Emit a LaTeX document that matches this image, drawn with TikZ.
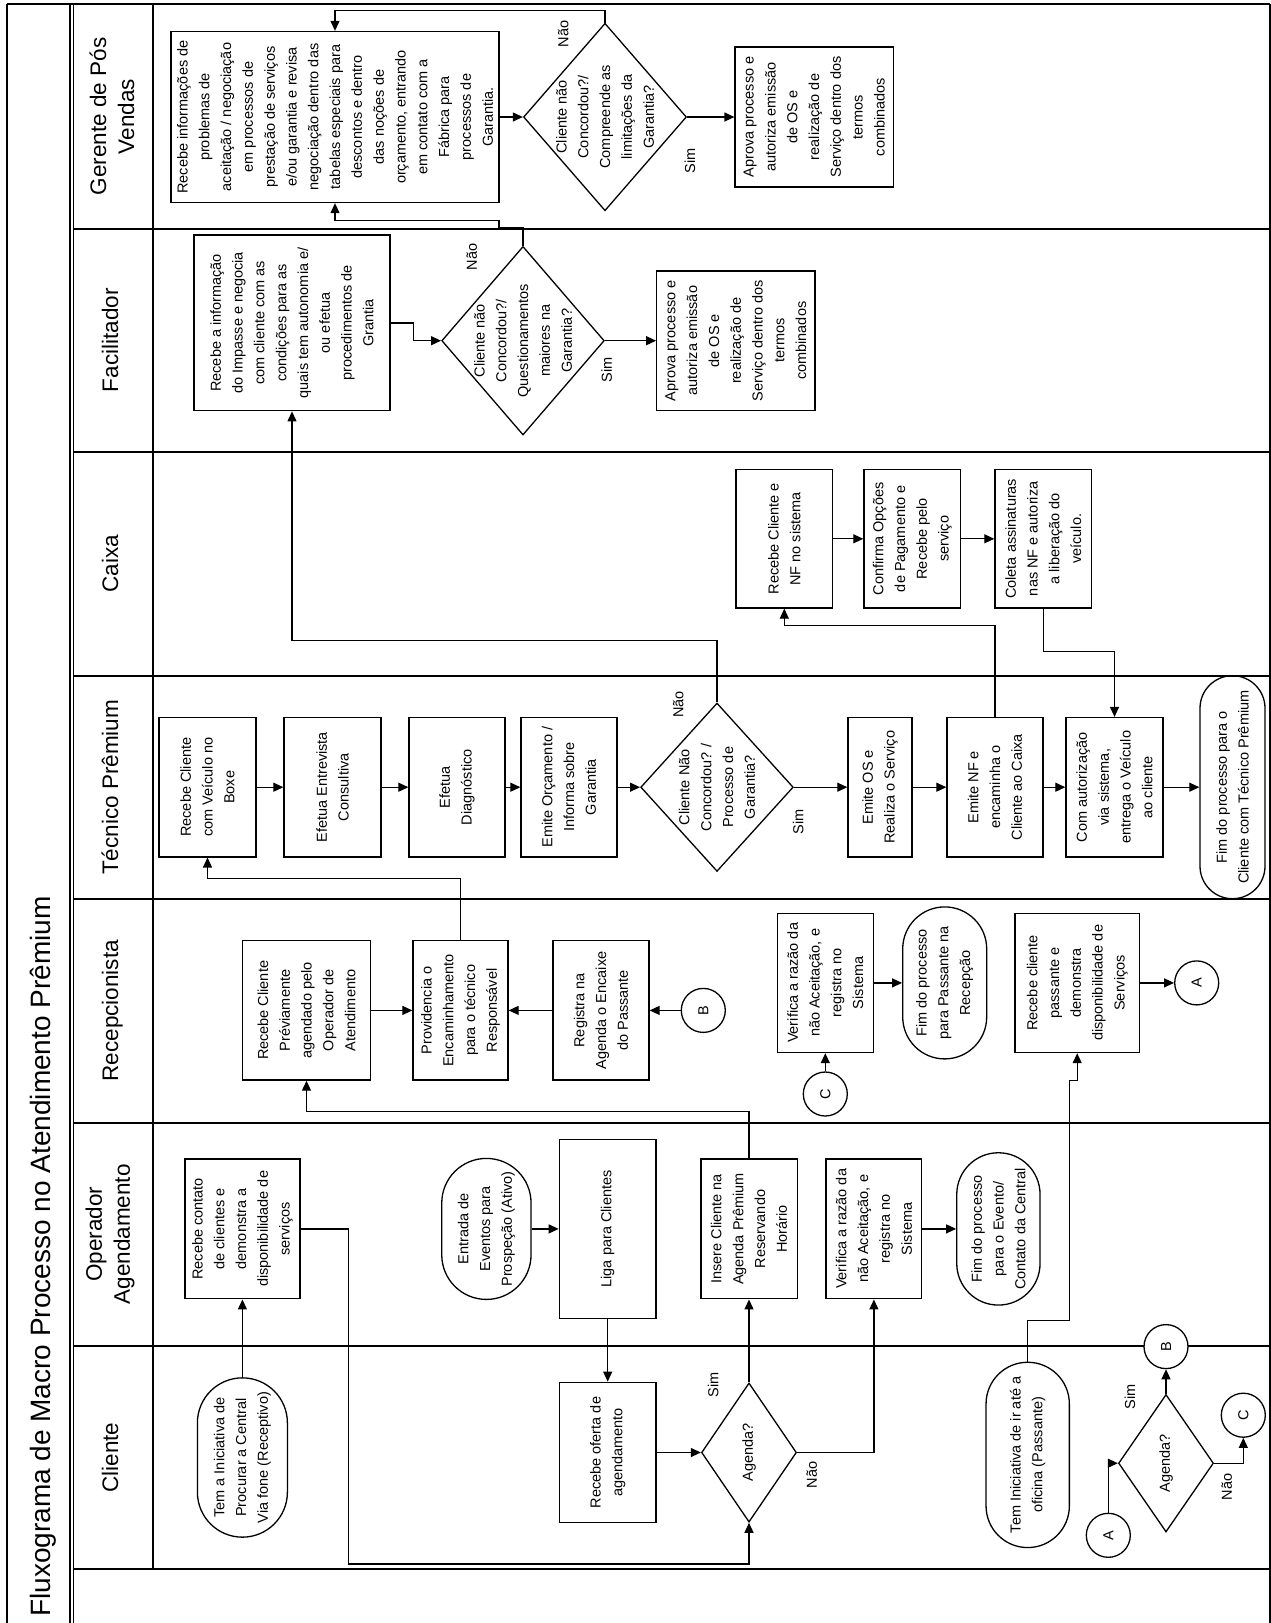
\documentclass[tikz,border=0pt]{standalone}
\usepackage{fontspec}
\setmainfont{Liberation Sans}
\usetikzlibrary{arrows.meta,shapes.geometric}
\newcommand\flowtext{\fontsize{14.5}{21.8}\selectfont}
\newcommand\lanefont{\fontsize{22.5}{28}\selectfont}
\newcommand\titlefont{\fontsize{28}{34}\selectfont}

\begin{document}
\begin{tikzpicture}[x=1pt,y=-1pt,
  every node/.style={rotate=90, inner sep=0pt, font=\flowtext, align=center},
  box/.style={draw, rectangle, line width=1.3pt},
  term/.style={draw, rectangle, line width=1.3pt, rounded corners=#1pt},
  dia/.style={draw, diamond, line width=1.3pt},
  conn/.style={draw, circle, fill=white, minimum size=44pt, line width=1.3pt},
  sz/.style 2 args={minimum width=#1pt, minimum height=#2pt},
  arr/.style={line width=1.2pt, -{Triangle[length=10pt,width=9pt]}},
  lane/.style={line width=2pt},
  lanelabel/.style={font=\lanefont}
]
\fill[white] (0,0) rectangle (1271,1623);
\useasboundingbox (0,0) rectangle (1271,1623);

% ---------- pool frame and lanes ----------
\draw[lane] (7,4.3) -- (1270,4.3);
\draw[lane] (7,4.3) -- (7,1623);
\draw[lane] (1270,4.3) -- (1270,1623);
\draw[line width=1.5pt] (69.8,4.3) -- (69.8,1623);
\draw[line width=1.5pt] (73.4,4.3) -- (73.4,1623);
\draw[lane] (153,4.3) -- (153,1569.3);
\foreach \yy in {228.6,451.8,675.7,898.9,1122.6,1345.9,1569.3}
  \draw[lane] (73,\yy) -- (1270,\yy);

% ---------- title and lane headers ----------
\node[font=\titlefont, anchor=base west] (title) at (50,1617)
  {Fluxograma de Macro Processo no Atendimento Prêmium};
\node[lanelabel] (hG) at (112,116.5) {Gerente de Pós\\Vendas};
\node[lanelabel, anchor=base] (hF) at (118,340.2) {Facilitador};
\node[lanelabel, anchor=base] (hC) at (118,563.8) {Caixa};
\node[lanelabel, anchor=base] (hT) at (118,787.3) {Técnico Prêmium};
\node[lanelabel, anchor=base] (hR) at (118,1010.8) {Recepcionista};
\node[lanelabel] (hO) at (110,1234.3) {Operador\\Agendamento};
\node[lanelabel, anchor=base] (hCl) at (118,1457.6) {Cliente};

% ---------- Gerente de Pós Vendas ----------
\node[box, sz={171}{328}] (G1) at (335,117) {Recebe informações de\\problemas de\\aceitação / negociação\\em processos de\\prestação de serviços\\e/ou garantia e revisa\\negociação dentro das\\tabelas especiais para\\descontos e dentro\\das noções de\\orçamento, entrando\\em contato com a\\Fábrica para\\processos de\\Garantia.};
\node[dia, sz={187.5}{163}] (G2) at (605,117) {};
\node (G2t) at (G2) {Cliente não\\Concordou?/\\Compreende as\\limitações da\\Garantia?};
\node[box, sz={140}{158.3}] (G3) at (814.2,117) {Aprova processo e\\autoriza emissão\\de OS e\\realização de\\Serviço dentro dos\\termos\\combinados};
\node (G2no) at (563.3,34) {Não};
\node (G2yes) at (690,160.7) {Sim};

% ---------- Facilitador ----------
\node[box, sz={175.7}{196}] (F1) at (292,322.9) {Recebe a informação\\do Impasse e negocia\\com cliente com as\\condições para as\\quais tem autonomia e/\\ou efetua\\procedimentos de\\Grantia};
\node[dia, sz={188.6}{162.6}] (F2) at (523,340.7) {};
\node (F2t) at (F2) {Cliente não\\Concordou?/\\Questionamentos\\maiores na\\Garantia?};
\node[box, sz={139.3}{158.3}] (F3) at (735.9,340.7) {Aprova processo e\\autoriza emissão\\de OS e\\realização de\\Serviço dentro dos\\termos\\combinados};
\node (F2no) at (471.7,257) {Não};
\node (F2yes) at (606.7,369.6) {Sim};

% ---------- Caixa ----------
\node[box, sz={138.3}{96.7}] (C1) at (784.3,538.8) {Recebe Cliente e\\NF no sistema};
\node[box, sz={138.3}{96.7}] (C2) at (912.3,538.8) {Confirma Opções\\de Pagamento e\\Recebe pelo\\serviço};
\node[box, sz={138.3}{96.7}] (C3) at (1043.3,538.8) {Coleta assinaturas\\nas NF e autoriza\\a liberação do\\veículo.};

% ---------- Técnico Prêmium ----------
\node[box, sz={139.3}{97}] (T1) at (207.5,787.2) {Recebe Cliente\\com Veículo no\\Boxe};
\node[box, sz={139.3}{97}] (T2) at (332.5,787.2) {Efetua Entrevista\\Consultiva};
\node[box, sz={139.3}{96}] (T3) at (457,787.2) {Efetua\\Diagnóstico};
\node[box, sz={139.3}{96}] (T4) at (569,787.2) {Emite Orçamento /\\Informa sobre\\Garantia};
\node[dia, sz={168.4}{152.6}] (T5) at (717,787.2) {};
\node (T5t) at (T5) {Cliente Não\\Concordou? /\\Processo de\\Garantia?};
\node[box, sz={139.3}{64}] (T6) at (880,787.2) {Emite OS e\\Realiza o Serviço};
\node[box, sz={139.3}{96}] (T7) at (995,787.2) {Emite NF e\\encaminha o\\Cliente ao Caixa};
\node[box, sz={139.3}{97}] (T8) at (1114.5,787.2) {Com autorização\\via sistema,\\entrega o Veículo\\ao cliente};
\node[term=32.5, sz={223}{65}] (T9) at (1232.5,787.2) {Fim do processo para o\\Cliente com Técnico Prêmium};
\node (T5no) at (678.3,704.3) {Não};
\node (T5yes) at (798.3,822) {Sim};

% ---------- Recepcionista ----------
\node[box, sz={139.3}{128.4}] (R1) at (306.5,1010.4) {Recebe Cliente\\Préviamente\\agendado pelo\\Operador de\\Atendimento};
\node[box, sz={139.3}{95}] (R2) at (460.5,1010.4) {Providencia o\\Encaminhamento\\para o técnico\\Responsável};
\node[box, sz={139.3}{96}] (R3) at (601,1010.4) {Registra na\\Agenda o Encaixe\\do Passante};
\node[conn] (cB1) at (703.3,1010.4) {B};
\node[box, sz={139.3}{96}] (R5) at (825.3,982.9) {Verifica a razão da\\não Aceitação, e\\registra no\\Sistema};
\node[conn] (cC1) at (825.3,1094) {C};
\node[term=42, sz={152}{84}] (R6) at (944.7,982.9) {Fim do processo\\para Passante na\\Recepção};
\node[box, sz={139.3}{124.3}] (R7) at (1077.2,982.9) {Recebe cliente\\passante e\\demonstra\\disponibilidade de\\Serviços};
\node[conn] (cA1) at (1196.7,982.9) {A};

% ---------- Operador Agendamento ----------
\node[box, sz={139.8}{115}] (O1) at (242.4,1228.9) {Recebe contato\\de clientes e\\demonstra a\\disponibilidade de\\serviços};
\node[term=44.6, sz={141}{89.3}] (O2) at (486.4,1228.9) {Entrada de\\Eventos para\\Prospeção (Ativo)};
\node[box, sz={178.6}{96.7}] (O3) at (607.7,1228.9) {Liga para Clientes};
\node[box, sz={139.8}{96.3}] (O4) at (749,1228.9) {Insere Cliente na\\Agenda Prêmium\\Reservando\\Horário};
\node[box, sz={139.8}{95.7}] (O5) at (873.9,1228.9) {Verifica a razão da\\não Aceitação, e\\registra no\\Sistema};
\node[term=41.6, sz={152.3}{83.3}] (O6) at (998.4,1228.9) {Fim do processo\\para o Evento/\\Contato da Central};

% ---------- Cliente ----------
\node[term=45, sz={159.3}{90}] (CL1) at (242.4,1457.5) {Tem a Iniciativa de\\Procurar a Central\\Via fone (Receptivo)};
\node[box, sz={140.5}{96.7}] (CL2) at (607.7,1452.5) {Recebe oferta de\\agendamento};
\node[dia, sz={139.2}{95}] (CL3) at (749,1452.5) {};
\node (CL3t) at (CL3) {Agenda?};
\node (CL3yes) at (713.3,1384.7) {Sim};
\node (CL3no) at (811.7,1474.7) {Não};
\node[term=41.6, sz={185.3}{83.3}] (CL4) at (1027.7,1454.9) {Tem Iniciativa de ir até a\\oficina (Passante)};
\node[conn] (cA2) at (1108.3,1535.3) {A};
\node[dia, sz={137.5}{95}] (CL5) at (1166,1463.2) {};
\node (CL5t) at (CL5) {Agenda?};
\node[conn] (cB2) at (1166,1346.6) {B};
\node[conn] (cC2) at (1243.3,1415.2) {C};
\node (CL5yes) at (1130,1396.8) {Sim};
\node (CL5no) at (1226.7,1486.8) {Não};

% ---------- connectors ----------
% Cliente / Operador
\draw[arr] (CL1.east) -- (O1.west);
\draw[arr] (O1.south) -- ++(48,0) -- ++(0,335) -| (CL3.west);
\draw[arr] (O2.south) -- (O3.north);
\draw[arr] (O3.west) -- (CL2.east);
\draw[arr] (CL2.south) -- (CL3.north);
\draw[arr] (CL3.east) -- (O4.west);
\draw[arr] (CL3.south) -| (O5.west);
\draw[arr] (O5.south) -- (O6.north);
\draw[arr] (O4.east) -- ++(0,-47.1) -| (R1.west);
\draw[arr] (CL4.east) -- ++(0,-41.5) -- ++(41.6,0) -- ++(0,-239.7) -| (R7.west);
\draw[arr] (cA2.east) |- (CL5.north);
\draw[arr] (CL5.east) -- (cB2.west);
\draw[arr] (CL5.south) -| (cC2.west);

% Recepcionista
\draw[arr] (R1.south) -- (R2.north);
\draw[arr] (R3.north) -- (R2.south);
\draw[arr] (cB1.north) -- (R3.south);
\draw[arr] (cC1.east) -- (R5.west);
\draw[arr] (R5.south) -- (R6.north);
\draw[arr] (R7.south) -- (cA1.north);
\draw[arr] (R2.east) -- ++(0,-61.4) -| (T1.west);

% Técnico Prêmium
\draw[arr] (T1.south) -- (T2.north);
\draw[arr] (T2.south) -- (T3.north);
\draw[arr] (T3.south) -- (T4.north);
\draw[arr] (T4.south) -- (T5.north);
\draw[arr] (T5.south) -- (T6.north);
\draw[arr] (T6.south) -- (T7.north);
\draw[arr] (T7.south) -- (T8.north);
\draw[arr] (T8.south) -- (T9.north);
\draw[arr] (T5.east) -- ++(0,-61.8) -| (F1.west);
\draw[arr] (T7.east) -- ++(0,-91.1) -| (C1.west);

% Caixa
\draw[arr] (C1.south) -- (C2.north);
\draw[arr] (C2.south) -- (C3.north);
\draw[arr] (C3.west) -- ++(0,42.8) -| (T8.east);

% Facilitador
\draw[arr] (F1.south) -- ++(23,0) |- (F2.north);
\draw[arr] (F2.south) -- (F3.north);
\draw[arr] (F2.east) -- ++(0,-17.8) -- ++(-24,0) -- ++(0,-7.2) -| (G1.west);

% Gerente de Pós Vendas
\draw[arr] (G1.south) -- (G2.north);
\draw[arr] (G2.south) -- (G3.north);
\draw[arr] (G2.east) -- ++(0,-12.5) -| (G1.east);
\end{tikzpicture}
\end{document}
